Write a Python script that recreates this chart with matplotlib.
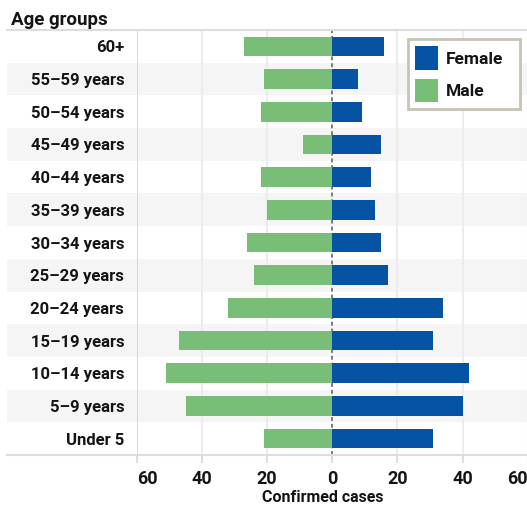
import numpy as np
import matplotlib.pyplot as plt
from matplotlib.patches import Patch, Rectangle
from matplotlib.transforms import blended_transform_factory

plt.rcParams['font.family'] = ['Roboto', 'DejaVu Sans']
plt.rcParams['font.weight'] = 'bold'

# confirmed cases by age group, listed top row first
ages = ['60+', '55–59 years', '50–54 years', '45–49 years', '40–44 years',
        '35–39 years', '30–34 years', '25–29 years', '20–24 years',
        '15–19 years', '10–14 years', '5–9 years', 'Under 5']
male = [27, 21, 22, 9, 22, 20, 26, 24, 32, 47, 51, 45, 21]
female = [16, 8, 9, 15, 12, 13, 15, 17, 34, 31, 42, 40, 31]
xticks = [-60, -40, -20, 0, 20, 40, 60]

BLUE = '#0753a3'
GREEN = '#79be76'
LINE = '#dddddd'
INK = '#141414'

W, H = 527, 508
fig = plt.figure(figsize=(W / 100, H / 100), dpi=100)
ax = fig.add_axes([136.7 / W, 53 / H, 391 / W, 425 / H])

y = np.arange(len(ages))
ax.set_xlim(-60, 60)
ax.set_ylim(len(ages) - 0.5, -0.5)

# alternating row shading that runs under the labels too
left = -130 / 391
trans = blended_transform_factory(ax.transAxes, ax.transData)
for i in y[1::2]:
    ax.add_patch(Rectangle((left, i - 0.5), 1 - left, 1, transform=trans,
                           facecolor='#f5f5f5', edgecolor='none',
                           clip_on=False, zorder=0))

for t in xticks:
    if t == 0:
        continue
    ax.axvline(t, color='#d9d9d9' if t == -60 else '#ececec', lw=1.5, zorder=0.5)
ax.axvline(0, color='#7a7a7a', lw=1.4, ls=(0, (2, 1.5)), zorder=1)

ax.barh(y, [-v for v in male], height=0.6, color=GREEN, zorder=2)
ax.barh(y, female, height=0.6, color=BLUE, zorder=2)

ax.axhline(-0.5, xmin=left, xmax=1, color=LINE, lw=1.5, clip_on=False, zorder=3)
ax.axhline(len(ages) - 0.5, xmin=left, xmax=1, color=LINE, lw=1.5, clip_on=False, zorder=3)

for s in ax.spines.values():
    s.set_visible(False)

ax.set_yticks(y, ages)
ax.tick_params(axis='y', length=0, pad=9, labelsize=12, labelcolor=INK)
ax.set_xticks(xticks, [str(abs(t)) for t in xticks])
ax.tick_params(axis='x', length=6, width=1.5, color=LINE, pad=5,
               labelsize=13, labelcolor=INK)
xl = ax.get_xticklabels()
xl[0].set_ha('left')
xl[-1].set_ha('right')

fig.text(323 / W, 1 - 497 / H, 'Confirmed cases', ha='center', va='center',
         fontsize=11.5, color=INK)
fig.text(11 / W, 1 - 25 / H, 'Age groups', ha='left', va='baseline',
         fontsize=13.5, color=INK)

handles = [Patch(facecolor=BLUE, label='Female'), Patch(facecolor=GREEN, label='Male')]
leg = ax.legend(handles=handles, loc='upper left',
                bbox_to_anchor=(407.7 / W, 1 - 110.7 / H, 112 / W, 71.7 / H),
                bbox_transform=fig.transFigure, mode='expand', borderaxespad=0,
                fancybox=False, framealpha=1, edgecolor='#c8c3b6', fontsize=12.5,
                handlelength=1.33, handleheight=1.7, labelspacing=0.52,
                handletextpad=0.45, borderpad=0.42)
leg.get_frame().set_linewidth(2)
for txt in leg.get_texts():
    txt.set_color(INK)

fig.savefig('out.png', dpi=100)
